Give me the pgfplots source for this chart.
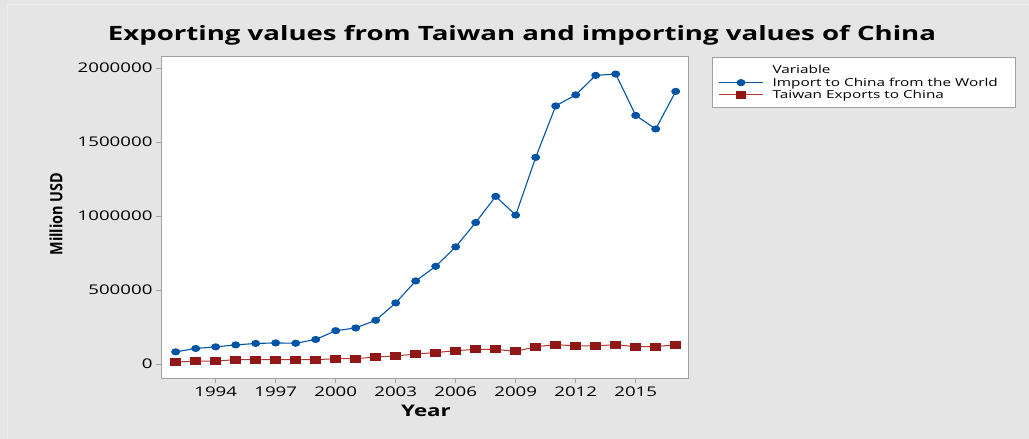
\documentclass[border=0pt]{standalone}
\usepackage{fontspec}
\setmainfont{Open Sans}[FakeStretch=1.4]
\newfontfamily\ylabfont{Open Sans}[FakeStretch=0.85]
\usepackage{pgfplots}
\pgfplotsset{compat=1.18}

\definecolor{bgray}{RGB}{229,229,229}
\definecolor{framegray}{RGB}{160,160,160}
\definecolor{mblue}{RGB}{0,84,166}
\definecolor{mred}{RGB}{145,22,22}
\definecolor{mredline}{RGB}{175,55,55}

\begin{document}
\begin{tikzpicture}
\path[use as bounding box, fill=bgray] (0,0) rectangle (1029bp,439bp);
\draw[white!85!gray, line width=1bp] (7bp,0) -- (7bp,434bp) -- (1029bp,434bp);

% title and axis labels
\node[font=\bfseries\fontsize{19.8}{23}\selectfont] at (522bp,403.5bp)
  {Exporting values from Taiwan and importing values of China};
\node[font=\bfseries\fontsize{16}{19}\selectfont] at (426bp,28bp) {Year};
\node[font=\ylabfont\bfseries\fontsize{17}{20}\selectfont, rotate=90] at (56bp,225bp) {Million USD};

% legend frame
\draw[framegray, fill=white, line width=0.8bp] (712.3bp,332bp) rectangle (1015bp,382bp);

\begin{axis}[
    at={(161bp,61bp)}, anchor=south west,
    width=527bp, height=321bp, scale only axis,
    xmin=1991.265, xmax=2017.615,
    ymin=-94595, ymax=2074324,
    xtick={1994,1997,2000,2003,2006,2009,2012,2015},
    ytick={0,500000,1000000,1500000,2000000},
    scaled y ticks=false,
    /pgf/number format/.cd, fixed, 1000 sep={}, assume math mode=true,
    /pgfplots/.cd,
    tick pos=left, tick align=outside,
    major tick length=5bp,
    tick style={framegray, line width=0.8bp},
    axis line style={framegray, line width=1bp},
    axis background/.style={fill=white},
    ticklabel style={font=\fontsize{13.4}{15}\selectfont, text=black},
    legend style={at={(1.0461,0.99)}, anchor=north west, draw=none, fill=none,
      font=\fontsize{11}{13}\selectfont, row sep=-1.5bp, inner xsep=6bp, inner ysep=3bp},
    legend cell align=left,
    legend image code/.code={\draw[#1, mark repeat=2, mark phase=2]
      plot coordinates {(0bp,0bp) (22bp,0bp) (44bp,0bp)};
      \path (51bp,0bp);},
]
\addlegendimage{empty legend}
\addlegendentry{Variable}

\addplot[mblue, line width=1.1bp, mark=*, mark size=3bp,
  mark options={xscale=1.3, fill=mblue, draw=mblue}] coordinates {
(1992,82000)(1993,105000)(1994,115700)(1995,129000)(1996,138800)(1997,142400)
(1998,140200)(1999,165700)(2000,225100)(2001,243600)(2002,295200)(2003,412800)
(2004,561200)(2005,660000)(2006,791500)(2007,956100)(2008,1132600)(2009,1005900)
(2010,1396200)(2011,1743500)(2012,1818400)(2013,1949990)(2014,1959200)
(2015,1679600)(2016,1587900)(2017,1841900)
};
\addlegendentry{Import to China from the World}

\addplot[mredline, line width=1bp, mark=square*, mark size=3.5bp,
  mark options={xscale=1.4, fill=mred, draw=mred}] coordinates {
(1992,13500)(1993,19000)(1994,20000)(1995,29000)(1996,29000)(1997,29000)
(1998,29000)(1999,29000)(2000,36000)(2001,36000)(2002,47000)(2003,54000)
(2004,68000)(2005,77000)(2006,90000)(2007,99000)(2008,99000)(2009,85000)
(2010,117000)(2011,131000)(2012,122000)(2013,122000)(2014,131000)
(2015,117000)(2016,117000)(2017,131000)
};
\addlegendentry{Taiwan Exports to China}
\end{axis}
\end{tikzpicture}
\end{document}
